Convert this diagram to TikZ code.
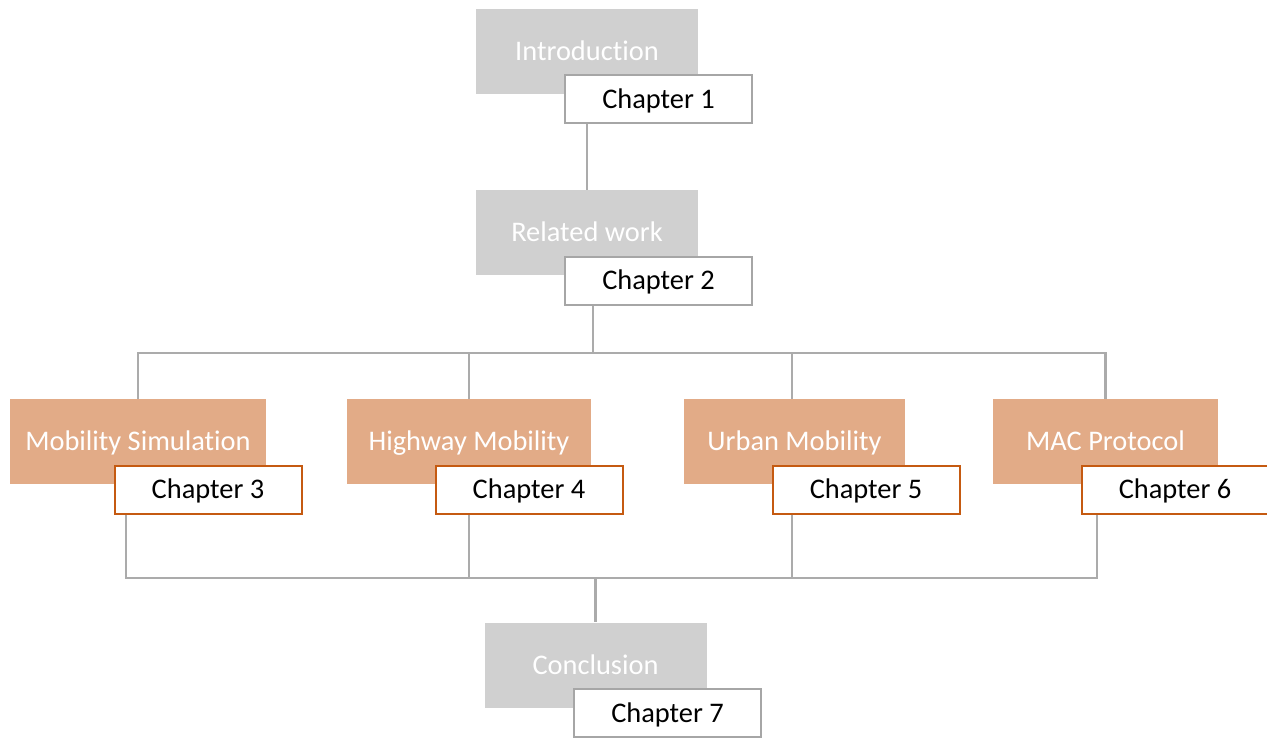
\documentclass[tikz,border=0pt]{standalone}
\usepackage{fontspec}
\setmainfont{Carlito}[Ligatures={NoCommon,NoDiscretionary}]
\definecolor{boxgray}{HTML}{D0D0D0}
\definecolor{boxorange}{HTML}{E2AB87}
\definecolor{edgeorange}{HTML}{C55A11}
\definecolor{edgegray}{HTML}{A6A6A6}
\definecolor{linkgray}{HTML}{ABABAB}

\begin{document}
\begin{tikzpicture}
  [x=0.5pt, y=-0.5pt,
    font=\fontsize{14.2}{17}\selectfont,
    GrayNode/.style={rectangle, fill=boxgray, text=white, minimum width=111pt, minimum height=42.5pt, inner sep=0pt, text height=9pt, text depth=0pt},
    OrangeNode/.style={rectangle, fill=boxorange, text=white, minimum height=42.5pt, inner sep=0pt, text height=9pt, text depth=0pt},
    ChapNode/.style={rectangle, draw=edgegray, fill=white, line width=1pt, minimum width=93.5pt, minimum height=24pt, inner sep=0pt, text height=9pt, text depth=0pt},
    SubChapNode/.style={ChapNode, draw=edgeorange},
    Link/.style={draw=linkgray, line width=1.3pt}]
  \useasboundingbox (0,0) rectangle (1267,738);

  \node [GrayNode] (intro) at (587,51.5) {Introduction};
  \node [ChapNode] (ch1) at (658.5,99) {Chapter 1};
  \node [GrayNode] (related) at (587,232.5) {Related work};
  \node [ChapNode] (ch2) at (658.5,280.5) {Chapter 2};

  \node [OrangeNode, minimum width=128pt] (mob) at (138,441.5) {Mobility Simulation};
  \node [SubChapNode] (ch3) at (208,489.5) {Chapter 3};
  \node [OrangeNode, minimum width=122pt] (high) at (469,441.5) {Highway Mobility};
  \node [SubChapNode] (ch4) at (529,489.5) {Chapter 4};
  \node [OrangeNode, minimum width=110.5pt] (urban) at (794.5,441.5) {Urban Mobility};
  \node [SubChapNode] (ch5) at (866,489.5) {Chapter 5};
  \node [OrangeNode, minimum width=112.5pt] (mac) at (1105.5,441.5) {MAC Protocol};
  \node [SubChapNode] (ch6) at (1175,489.5) {Chapter 6};

  \node [GrayNode] (concl) at (595.5,665) {Conclusion};
  \node [ChapNode] (ch7) at (667.5,713) {Chapter 7};

  \coordinate (split) at (593,353);
  \coordinate (join) at (595.5,578);
  \coordinate (j3) at (126,578);
  \coordinate (j4) at (469,578);
  \coordinate (j5) at (792,578);
  \coordinate (j6) at (1097,578);

  \draw [Link] (ch1.south -| intro.south) -- (related.north);
  \draw [Link] (ch2.south -| split) -- (split);
  \draw [Link] (mob.north) |- (split) -| (mac.north);
  \draw [Link] (high.north) -- (high.north |- split);
  \draw [Link] (urban.north -| j5) -- (j5 |- split);
  \draw [Link] (ch3.south -| j3) -- (j3) -- (j6) -- (ch6.south -| j6);
  \draw [Link] (ch4.south -| j4) -- (j4);
  \draw [Link] (ch5.south -| j5) -- (j5);
  \draw [Link] (join) -- (concl.north);
\end{tikzpicture}
\end{document}
